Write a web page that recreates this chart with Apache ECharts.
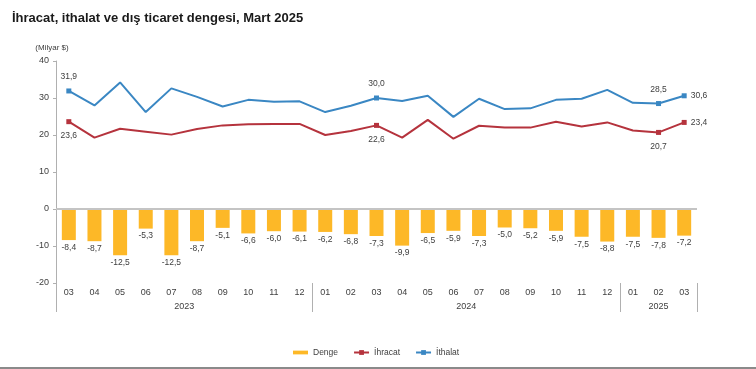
<!DOCTYPE html>
<html>
<head>
<meta charset="utf-8">
<script src="https://cdn.jsdelivr.net/npm/echarts@6/dist/echarts.min.js"></script>
<style>
html,body{margin:0;padding:0;background:#fff;}
#wrap{width:756px;height:369px;box-sizing:border-box;border-bottom:2px solid #8a8a8a;}
#chart{width:756px;height:367px;}
</style>
</head>
<body>
<div id="wrap"><div id="chart"></div></div>
<script>
// ---- data ----
const months = ['03','04','05','06','07','08','09','10','11','12',
                '01','02','03','04','05','06','07','08','09','10','11','12',
                '01','02','03'];
const years = ['2023','2024','2025'];
const yearMonthCounts = [10, 12, 3];
const denge = [-8.4,-8.7,-12.5,-5.3,-12.5,-8.7,-5.1,-6.6,-6.0,-6.1,
               -6.2,-6.8,-7.3,-9.9,-6.5,-5.9,-7.3,-5.0,-5.2,-5.9,-7.5,-8.8,
               -7.5,-7.8,-7.2];
const ihracat = [23.6,19.3,21.7,20.9,20.1,21.6,22.6,22.9,23.0,23.0,
                 20.0,21.1,22.6,19.3,24.1,19.0,22.5,22.0,22.0,23.6,22.3,23.4,
                 21.2,20.7,23.4];
const ithalat = [31.9,28.0,34.2,26.2,32.6,30.3,27.7,29.5,29.0,29.1,
                 26.2,27.9,30.0,29.2,30.6,24.9,29.8,27.0,27.2,29.5,29.8,32.2,
                 28.7,28.5,30.6];
const labeledIdx = [0, 12, 23, 24];
const yTicks = {min: -20, max: 40, interval: 10};

// ---- helpers ----
const fmt = v => v.toFixed(1).replace('.', ',');
const FONT = '"Liberation Sans", Arial, sans-serif';
const TXT = '#404040';

// year boundaries & centers (in category units)
const bounds = [0];
yearMonthCounts.forEach(c => bounds.push(bounds[bounds.length - 1] + c));
const yearCenters = years.map((y, i) => (bounds[i] + bounds[i + 1]) / 2);

function lineData(vals, pos, lastPos, dist) {
  return vals.map((v, i) => {
    if (labeledIdx.indexOf(i) < 0) return v;
    const last = i === vals.length - 1;
    return {
      value: v,
      symbolSize: 5,
      label: {show: true, position: last ? lastPos : pos, distance: last ? 4 : dist,
               formatter: p => fmt(p.value)}
    };
  });
}

const chart = echarts.init(document.getElementById('chart'), null, {renderer: 'canvas'});
chart.setOption({
  backgroundColor: '#fff',
  animation: false,
  textStyle: {fontFamily: FONT},
  title: {
    text: 'İhracat, ithalat ve dış ticaret dengesi, Mart 2025',
    left: 7, top: 7,
    textStyle: {fontSize: 13, fontWeight: 'bold', color: '#1a1a1a', fontFamily: FONT}
  },
  legend: {
    left: 288, top: 343,
    itemWidth: 15, itemHeight: 6, itemGap: 15,
    textStyle: {fontSize: 8.5, color: TXT, fontFamily: FONT},
    data: [
      {name: 'Denge', icon: 'path://M0,0L16,0L16,4L0,4Z'},
      {name: 'İhracat'},
      {name: 'İthalat'}
    ]
  },
  grid: {left: 56, right: 59, top: 61, bottom: 84},
  xAxis: [
    {
      type: 'category', data: months, position: 'bottom',
      axisLine: {show: false, onZero: false},
      axisTick: {show: false},
      axisLabel: {margin: 5, fontSize: 9, color: TXT, fontFamily: FONT, interval: 0}
    },
    {
      type: 'value', min: 0, max: bounds[bounds.length - 1], position: 'bottom',
      axisLine: {show: false, onZero: false},
      splitLine: {show: false},
      axisTick: {show: true, customValues: bounds, length: 29, lineStyle: {color: '#b0b0b0', width: 1}},
      axisLabel: {
        customValues: yearCenters, margin: 19, fontSize: 9, color: TXT, fontFamily: FONT,
        formatter: v => { const k = yearCenters.indexOf(v); return k >= 0 ? years[k] : ''; }
      }
    }
  ],
  yAxis: {
    type: 'value', min: yTicks.min, max: yTicks.max, interval: yTicks.interval,
    name: '(Milyar $)', nameLocation: 'end', nameGap: 9,
    nameTextStyle: {fontSize: 8, color: TXT, fontFamily: FONT, align: 'center', padding: [0, 8, 0, 0]},
    axisLine: {show: true, lineStyle: {color: '#b0b0b0', width: 1}},
    axisTick: {show: true, length: 3, lineStyle: {color: '#b0b0b0'}},
    splitLine: {show: false},
    axisLabel: {fontSize: 9, color: TXT, fontFamily: FONT, margin: 7}
  },
  series: [
    {
      name: 'Denge', type: 'bar', data: denge, barWidth: 14,
      itemStyle: {color: '#FDB827'},
      label: {show: true, position: 'bottom', distance: 3, fontSize: 8.5, color: TXT,
              fontFamily: FONT, formatter: p => fmt(p.value)},
      markLine: {
        silent: true, symbol: 'none', label: {show: false},
        lineStyle: {color: '#c4c4c4', width: 2, type: 'solid'},
        data: [{yAxis: 0}]
      },
      z: 1
    },
    {
      name: 'İhracat', type: 'line', data: lineData(ihracat, 'bottom', 'right', 7),
      symbol: 'rect', symbolSize: 0,
      lineStyle: {color: '#B5333D', width: 2},
      itemStyle: {color: '#B5333D'},
      label: {fontSize: 8.5, color: TXT, fontFamily: FONT},
      z: 3
    },
    {
      name: 'İthalat', type: 'line', data: lineData(ithalat, 'top', 'right', 7),
      symbol: 'rect', symbolSize: 0,
      lineStyle: {color: '#3A87C3', width: 2},
      itemStyle: {color: '#3A87C3'},
      label: {fontSize: 8.5, color: TXT, fontFamily: FONT},
      z: 3
    }
  ]
});
</script>
</body>
</html>
